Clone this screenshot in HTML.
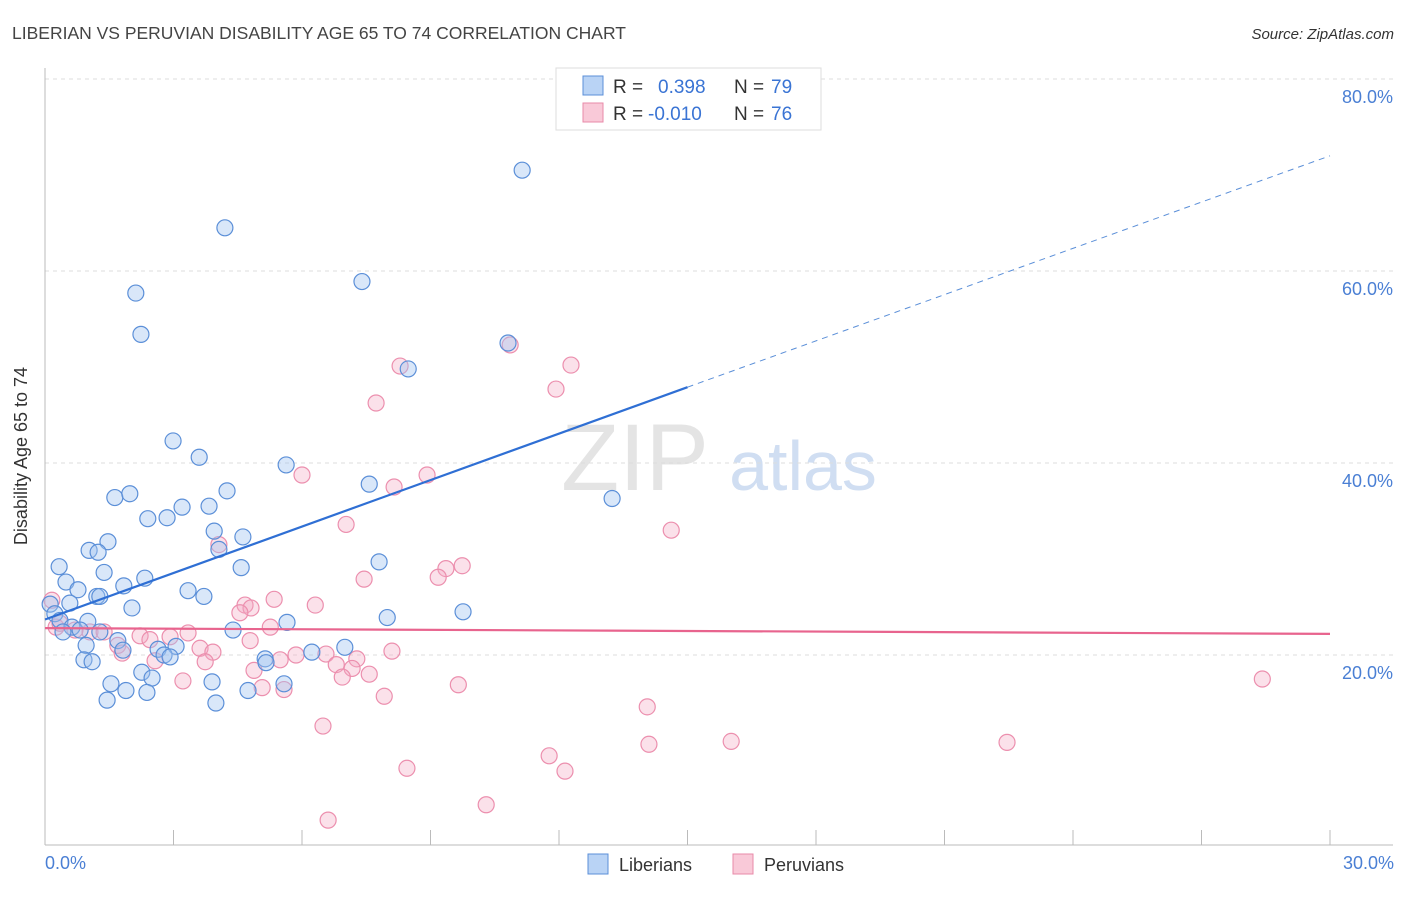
<!DOCTYPE html>
<html><head><meta charset="utf-8"><style>
body{margin:0;background:#fff;font-family:"Liberation Sans",sans-serif;}
svg text{font-family:"Liberation Sans",sans-serif;}
</style></head><body>
<svg id="chart" width="1406" height="892" viewBox="0 0 1406 892" xmlns="http://www.w3.org/2000/svg">
<text x="12" y="39" font-size="17.5" fill="#444">LIBERIAN VS PERUVIAN DISABILITY AGE 65 TO 74 CORRELATION CHART</text>
<text x="1394" y="39" font-size="15" fill="#333" font-style="italic" text-anchor="end">Source: ZipAtlas.com</text>
<g>
<text x="635" y="490" font-size="95" fill="#e4e4e4" text-anchor="middle" font-family="Liberation Serif, serif">ZIP</text>
<text x="803" y="490" font-size="70" fill="#d0def2" text-anchor="middle">atlas</text>
</g>
<g id="grid"></g>
<g id="axes"></g>
<g id="pts"></g>
<g id="trend"></g>
<text transform="translate(33,456) rotate(-90)" font-size="18" fill="#333" text-anchor="middle" x="0" y="-6">Disability Age 65 to 74</text>
<text x="45" y="869" font-size="18" fill="#4a7fd4">0.0%</text>
<text x="1394" y="869" font-size="18" fill="#4a7fd4" text-anchor="end">30.0%</text>
<g>
<rect x="556" y="68" width="265" height="62" fill="#fff" stroke="#ddd"/>
<rect x="583" y="76" width="20" height="19" fill="#b9d3f5" stroke="#5b8fd8"/>
<rect x="583" y="103" width="20" height="19" fill="#f9c9d8" stroke="#e88aa8"/>
<text x="613" y="93" font-size="19" fill="#333">R =</text>
<text x="658" y="93" font-size="19" fill="#3a74d4">0.398</text>
<text x="734" y="93" font-size="19" fill="#333">N =</text>
<text x="771" y="93" font-size="19" fill="#3a74d4">79</text>
<text x="613" y="120" font-size="19" fill="#333">R =</text>
<text x="648" y="120" font-size="19" fill="#3a74d4">-0.010</text>
<text x="734" y="120" font-size="19" fill="#333">N =</text>
<text x="771" y="120" font-size="19" fill="#3a74d4">76</text>
</g>
<g>
<rect x="588" y="854" width="20" height="20" fill="#b9d3f5" stroke="#5b8fd8"/>
<text x="619" y="871" font-size="18" fill="#333">Liberians</text>
<rect x="733" y="854" width="20" height="20" fill="#f9c9d8" stroke="#e88aa8"/>
<text x="764" y="871" font-size="18" fill="#333">Peruvians</text>
</g>
</svg>
<script>
const yTicks=[20,40,60,80];
const yTickLabels=["20.0%","40.0%","60.0%","80.0%"];
const xTicks=[0,3,6,9,12,15,18,21,24,27,30];
const libX=[11.14,4.20,2.12,7.40,2.24,10.81,8.48,2.99,3.60,5.63,7.57,13.24,1.63,1.98,4.25,3.20,3.83,2.40,2.85,3.95,4.62,1.47,1.03,1.24,4.06,0.33,7.80,4.58,1.38,2.33,0.49,1.84,0.77,3.34,1.21,1.28,3.71,0.58,0.12,2.03,9.76,7.99,5.65,0.23,0.35,1.00,0.63,0.82,0.42,1.28,4.39,1.70,0.96,1.82,2.64,3.06,7.00,6.23,2.78,2.92,0.91,1.10,5.14,5.16,2.26,2.50,1.54,3.90,5.58,1.89,2.38,4.74,1.45,3.99];
const libY=[70.5,64.5,57.7,58.9,53.4,52.5,49.8,42.3,40.6,39.8,37.8,36.3,36.4,36.8,37.1,35.4,35.5,34.2,34.3,32.9,32.3,31.8,30.9,30.7,31.0,29.2,29.7,29.1,28.6,28.0,27.6,27.2,26.8,26.7,26.1,26.1,26.1,25.4,25.3,24.9,24.5,23.9,23.4,24.3,23.6,23.5,22.9,22.6,22.4,22.4,22.6,21.5,21.0,20.5,20.6,20.9,20.8,20.3,20.0,19.8,19.5,19.3,19.6,19.2,18.2,17.6,17.0,17.2,17.0,16.3,16.1,16.3,15.3,15.0];
const perX=[10.86,8.29,12.28,11.93,7.73,6.00,8.92,8.15,14.62,7.03,4.06,9.74,9.36,9.18,7.45,5.35,6.31,4.67,4.81,4.55,0.16,5.26,0.26,1.05,1.38,3.34,2.22,2.92,4.79,1.70,3.62,3.92,1.80,5.86,6.56,7.28,8.10,5.49,3.74,2.57,6.80,7.17,4.88,7.57,6.94,3.22,9.65,5.07,5.58,7.92,28.42,14.06,6.49,16.02,22.46,14.10,11.77,8.45,12.14,10.30,6.61,0.35,0.70,2.45];
const perY=[52.3,50.1,50.2,47.7,46.25,38.75,38.75,37.5,33.0,33.6,31.5,29.3,29.0,28.1,27.9,25.8,25.2,25.2,24.9,24.4,25.7,22.9,22.9,22.4,22.4,22.3,22.0,21.9,21.5,21.0,20.7,20.3,20.2,20.0,20.1,19.6,20.4,19.5,19.3,19.4,19.0,18.6,18.4,18.0,17.7,17.3,16.9,16.6,16.4,15.7,17.5,14.6,12.6,11.0,10.9,10.7,9.5,8.2,7.9,4.4,2.8,23.3,22.6,21.6];
const libTrend=[[0,23.7],[15,47.9],[30,72.0]];
const perTrend=[[0,22.8],[30,22.2]];
const NS="http://www.w3.org/2000/svg";
const X=v=>45+v/30*1285, Y=v=>847-v*9.6;
function mk(tag,parent,attrs){const e=document.createElementNS(NS,tag);for(const k in attrs)e.setAttribute(k,attrs[k]);document.getElementById(parent).appendChild(e);return e;}
yTicks.forEach((t,i)=>{
 const g=mk('line','grid',{x1:45,x2:1393,y1:Y(t),y2:Y(t),stroke:'#ddd','stroke-dasharray':'4,4'});
 
 
 const l=mk('text','grid',{x:1393,y:Y(t)+24,'font-size':18,fill:'#4a7fd4','text-anchor':'end'});
 l.textContent=yTickLabels[i];
 
 
});
const ax=mk('line','axes',{x1:45,x2:45,y1:68,y2:845,stroke:'#bbb'});


const bx=mk('line','axes',{x1:45,x2:1393,y1:845,y2:845,stroke:'#bbb'});


xTicks.forEach(t=>{
 const k=mk('line','axes',{x1:X(t),x2:X(t),y1:830,y2:845,stroke:'#bbb'});
 
 
});
perX.forEach((v,i)=>{
 const c=mk('circle','pts',{cx:X(v),cy:Y(perY[i]),r:8,fill:'rgba(244,170,196,0.35)',stroke:'#ec8fae','stroke-width':1.2});
 
 
});
libX.forEach((v,i)=>{
 const c=mk('circle','pts',{cx:X(v),cy:Y(libY[i]),r:8,fill:'rgba(160,196,240,0.4)',stroke:'#5b8fd8','stroke-width':1.2});
 
 
});
const t1=mk('line','trend',{x1:X(libTrend[0][0]),y1:Y(libTrend[0][1]),x2:X(libTrend[1][0]),y2:Y(libTrend[1][1]),stroke:'#2f6fd4','stroke-width':2.2});


const t2=mk('line','trend',{x1:X(libTrend[1][0]),y1:Y(libTrend[1][1]),x2:X(libTrend[2][0]),y2:Y(libTrend[2][1]),stroke:'#5b8fd8','stroke-width':1,'stroke-dasharray':'6,5'});


const t3=mk('line','trend',{x1:X(perTrend[0][0]),y1:Y(perTrend[0][1]),x2:X(perTrend[1][0]),y2:Y(perTrend[1][1]),stroke:'#e8648e','stroke-width':2.2});


</script>
</body></html>
